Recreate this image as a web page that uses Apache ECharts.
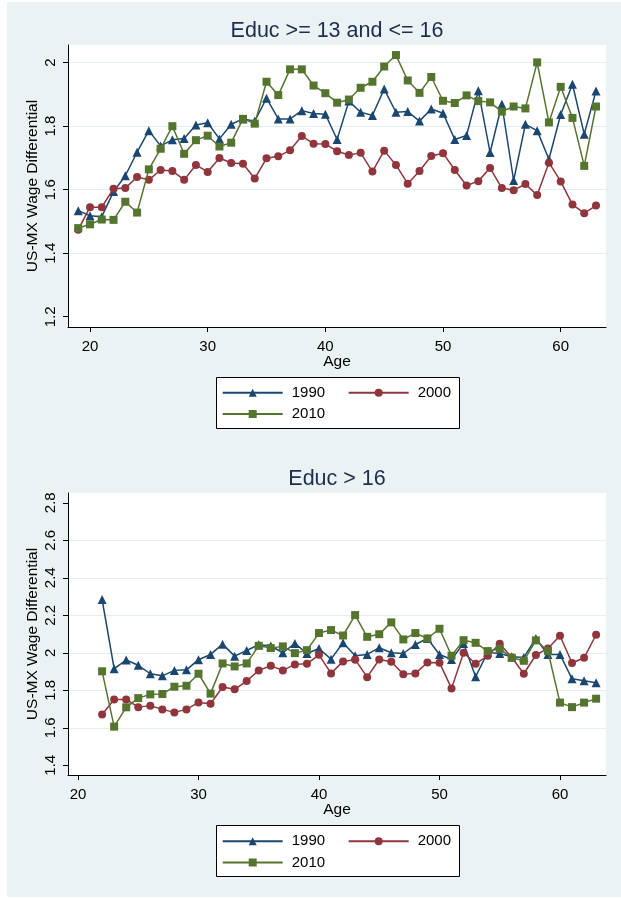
<!DOCTYPE html>
<html>
<head>
<meta charset="utf-8">
<script src="https://cdn.jsdelivr.net/npm/echarts@6.0.0/dist/echarts.min.js"></script>
<style>
  html, body { margin: 0; padding: 0; background: #ffffff; }
  #wrap { position: relative; width: 621px; height: 898px; }
  #bg { position: absolute; left: 7px; top: 2px; width: 614px; height: 895px; background: #eaf2f3; }
  #chart { position: absolute; left: 0; top: 0; width: 621px; height: 898px; }
</style>
</head>
<body>
<div id="wrap"><div id="bg"></div><div id="chart"></div></div>
<script>
// ---------- data ----------
const seriesNames = ['1990', '2000', '2010'];

const topTitle = 'Educ >= 13 and <= 16';
const bottomTitle = 'Educ > 16';
const xTitle = 'Age';
const yTitle = 'US-MX Wage Differential';

const topAges = [19,20,21,22,23,24,25,26,27,28,29,30,31,32,33,34,35,36,37,38,39,40,41,42,43,44,45,46,47,48,49,50,51,52,53,54,55,56,57,58,59,60,61,62,63];
const top1990 = [1.534,1.518,1.515,1.594,1.644,1.718,1.786,1.738,1.757,1.761,1.804,1.811,1.760,1.806,1.823,1.816,1.888,1.823,1.823,1.849,1.840,1.838,1.758,1.879,1.844,1.834,1.917,1.844,1.846,1.816,1.854,1.841,1.758,1.771,1.912,1.717,1.869,1.629,1.806,1.786,1.696,1.837,1.932,1.775,1.911];
const top2000 = [1.474,1.545,1.545,1.603,1.605,1.640,1.631,1.662,1.659,1.631,1.678,1.656,1.700,1.684,1.682,1.635,1.699,1.705,1.724,1.769,1.745,1.744,1.721,1.709,1.716,1.657,1.723,1.678,1.619,1.659,1.706,1.715,1.662,1.613,1.627,1.668,1.605,1.598,1.618,1.583,1.685,1.626,1.553,1.526,1.550];
const top2010 = [1.479,1.491,1.506,1.505,1.562,1.528,1.664,1.729,1.800,1.713,1.756,1.770,1.736,1.748,1.823,1.808,1.940,1.898,1.979,1.979,1.928,1.904,1.874,1.884,1.921,1.940,1.988,2.024,1.944,1.905,1.955,1.880,1.873,1.897,1.879,1.875,1.846,1.862,1.856,2.001,1.812,1.924,1.826,1.675,1.862];

const bottomAges = [22,23,24,25,26,27,28,29,30,31,32,33,34,35,36,37,38,39,40,41,42,43,44,45,46,47,48,49,50,51,52,53,54,55,56,57,58,59,60,61,62,63];
const bottom1990 = [2.284,1.915,1.961,1.933,1.888,1.877,1.906,1.909,1.963,1.991,2.046,1.982,2.012,2.043,2.036,2.000,2.050,1.996,2.023,1.966,2.053,1.984,1.991,2.027,2.000,1.996,2.044,2.076,1.991,1.964,2.050,1.872,2.002,1.996,1.979,1.975,2.076,1.991,1.991,1.861,1.851,1.840];
const bottom2000 = [1.671,1.751,1.751,1.710,1.718,1.698,1.682,1.698,1.735,1.728,1.817,1.805,1.849,1.906,1.931,1.906,1.938,1.941,1.989,1.890,1.954,1.963,1.870,1.964,1.952,1.885,1.890,1.948,1.947,1.810,2.000,1.941,1.984,2.048,1.975,1.888,1.988,2.023,2.091,1.945,1.973,2.096];
const bottom2010 = [1.901,1.606,1.709,1.758,1.778,1.780,1.819,1.824,1.888,1.782,1.943,1.927,1.943,2.037,2.025,2.034,1.998,2.014,2.105,2.121,2.092,2.201,2.085,2.099,2.162,2.071,2.105,2.076,2.128,1.984,2.067,2.053,2.009,2.021,1.973,1.957,2.066,2.009,1.734,1.710,1.734,1.755];

const xTicks = [20, 30, 40, 50, 60];
const topYTicks = [1.2, 1.4, 1.6, 1.8, 2];
const bottomYTicks = [1.4, 1.6, 1.8, 2, 2.2, 2.4, 2.6, 2.8];

// ---------- styling ----------
const FONT = '"Liberation Sans", Arial, Helvetica, sans-serif';
const COLORS = ['#1a476f', '#90353b', '#55752f'];
const SYMBOLS = ['triangle', 'circle', 'rect'];
const SYMSIZE = [9, 8, 8];
const GRIDC = '#e4edf0';
const NONE = 'rgba(0,0,0,0)';

function fmt(v) { return String(Number(Number(v).toFixed(2))); }

function xAxisOf(gi, min, max) {
  return {
    type: 'value', gridIndex: gi, min: min, max: max,
    axisLine: { show: true, onZero: false, lineStyle: { color: '#000', width: 1 } },
    axisTick: { show: true, length: 5, customValues: xTicks, lineStyle: { color: '#000', width: 1 } },
    axisLabel: { customValues: xTicks, fontSize: 15, color: '#000', fontFamily: FONT, margin: 12, formatter: fmt },
    splitLine: { show: false },
    name: xTitle, nameLocation: 'middle', nameGap: 27, nameMoveOverlap: false,
    nameTextStyle: { fontSize: 15.5, color: '#000', fontFamily: FONT }
  };
}
function yAxisOf(gi, min, max, ticks) {
  const cols = ticks.map((t, i) => (i === 0 || (ticks.length > 5 && i === ticks.length - 1)) ? NONE : GRIDC);
  return {
    type: 'value', gridIndex: gi, min: min, max: max,
    axisLine: { show: true, onZero: false, lineStyle: { color: '#000', width: 1 } },
    axisTick: { show: true, length: 5, customValues: ticks, lineStyle: { color: '#000', width: 1 } },
    axisLabel: { customValues: ticks, rotate: 90, fontSize: 15, color: '#000', fontFamily: FONT, margin: 10, formatter: fmt },
    splitLine: { show: true, lineStyle: { color: cols, width: 1.2 } },
    name: yTitle, nameLocation: 'middle', nameGap: 27, nameMoveOverlap: false,
    nameTextStyle: { fontSize: 15.5, color: '#000', fontFamily: FONT }
  };
}
function lineSeries(idx, gi, ages, vals) {
  return {
    name: seriesNames[idx], type: 'line', xAxisIndex: gi, yAxisIndex: gi,
    data: ages.map((a, i) => [a, vals[i]]),
    symbol: SYMBOLS[idx], symbolSize: SYMSIZE[idx], showSymbol: true,
    lineStyle: { color: COLORS[idx], width: 1.5 },
    itemStyle: { color: COLORS[idx], borderWidth: 0 },
    emphasis: { disabled: true },
    animation: false, z: 2 + idx
  };
}
function legendRow(names, left, top) {
  return {
    data: names, left: left, top: top, padding: 0, orient: 'horizontal',
    itemWidth: 60, itemHeight: 10, itemGap: 22.6, selectedMode: false,
    textStyle: { fontSize: 15, color: '#000', fontFamily: FONT, padding: [0, 0, 0, 4] }
  };
}

const chart = echarts.init(document.getElementById('chart'), null, { renderer: 'canvas' });
const option = {
  backgroundColor: 'transparent',
  animation: false,
  title: [
    { text: topTitle, left: 337, top: 20, textAlign: 'center', padding: 0,
      textStyle: { fontSize: 21.5, fontWeight: 'normal', color: '#1e2c4e', fontFamily: FONT } },
    { text: bottomTitle, left: 337, top: 468, textAlign: 'center', padding: 0,
      textStyle: { fontSize: 21.5, fontWeight: 'normal', color: '#1e2c4e', fontFamily: FONT } }
  ],
  grid: [
    { left: 68, right: 15, top: 45, height: 282, show: true, backgroundColor: '#ffffff', borderWidth: 0 },
    { left: 68, right: 15, top: 493, height: 282, show: true, backgroundColor: '#ffffff', borderWidth: 0 }
  ],
  xAxis: [xAxisOf(0, 18.13, 63.85), xAxisOf(1, 19.17, 63.82)],
  yAxis: [yAxisOf(0, 1.1676, 2.0557, topYTicks), yAxisOf(1, 1.348, 2.852, bottomYTicks)],
  legend: [
    legendRow(['1990', '2000'], 221.7, 385.2),
    legendRow(['2010'], 221.7, 406.5),
    legendRow(['1990', '2000'], 221.7, 833.7),
    legendRow(['2010'], 221.7, 855)
  ],
  graphic: [
    { type: 'rect', shape: { x: 216.5, y: 377.5, width: 243, height: 51 }, style: { fill: '#fff', stroke: '#000', lineWidth: 1 }, z: 0 },
    { type: 'rect', shape: { x: 216.5, y: 825.5, width: 243, height: 51 }, style: { fill: '#fff', stroke: '#000', lineWidth: 1 }, z: 0 }
  ],
  series: [
    lineSeries(0, 0, topAges, top1990),
    lineSeries(1, 0, topAges, top2000),
    lineSeries(2, 0, topAges, top2010),
    lineSeries(0, 1, bottomAges, bottom1990),
    lineSeries(1, 1, bottomAges, bottom2000),
    lineSeries(2, 1, bottomAges, bottom2010)
  ]
};
chart.setOption(option);
</script>
</body>
</html>
